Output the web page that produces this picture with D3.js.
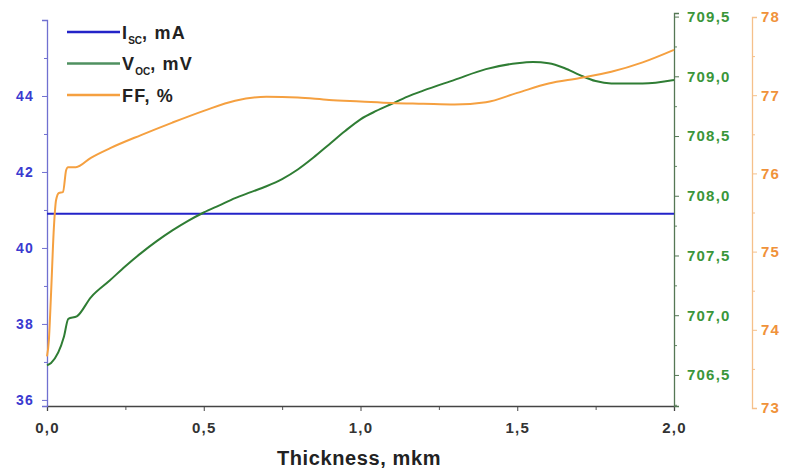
<!DOCTYPE html>
<html>
<head>
<meta charset="utf-8">
<script src="https://cdn.jsdelivr.net/npm/d3@7"></script>
<style>
  body { margin: 0; background: #fff; }
  svg { font-family: "Liberation Sans", Arial, sans-serif; font-weight: bold; }
</style>
</head>
<body>
<svg id="viewer"></svg>
<script>
// thickness, mkm
var thicknessVoc = [0, 0.013, 0.054, 0.068, 0.095, 0.14, 0.2, 0.25, 0.3, 0.35, 0.4, 0.45, 0.5, 0.55, 0.6, 0.65, 0.7, 0.75, 0.8, 0.85, 0.9, 0.95, 1.0, 1.05, 1.1, 1.15, 1.2, 1.3, 1.4, 1.5, 1.55, 1.6, 1.65, 1.7, 1.75, 1.8, 1.9, 2.0];
var voc = [706.58, 706.60, 706.82, 706.97, 706.99, 707.15, 707.29, 707.41, 707.52, 707.62, 707.71, 707.79, 707.86, 707.92, 707.98, 708.03, 708.08, 708.14, 708.22, 708.32, 708.43, 708.54, 708.64, 708.71, 708.77, 708.83, 708.88, 708.97, 709.06, 709.11, 709.12, 709.11, 709.07, 709.01, 708.96, 708.94, 708.94, 708.97];

var thicknessFF = [0, 0.006, 0.013, 0.022, 0.029, 0.038, 0.051, 0.061, 0.067, 0.092, 0.14, 0.2, 0.3, 0.4, 0.5, 0.6, 0.7, 0.8, 0.9, 1.0, 1.1, 1.2, 1.3, 1.4, 1.5, 1.6, 1.7, 1.8, 1.9, 2.0];
var ff = [73.66, 73.87, 74.47, 75.31, 75.66, 75.75, 75.76, 76.04, 76.08, 76.08, 76.20, 76.32, 76.49, 76.65, 76.80, 76.93, 76.98, 76.97, 76.94, 76.92, 76.90, 76.89, 76.88, 76.91, 77.03, 77.15, 77.22, 77.30, 77.42, 77.58];

var thicknessIsc = [0, 2.0];
var isc = [40.9, 40.9];

var iscTicks = [36, 38, 40, 42, 44];
var vocTicks = [706.5, 707.0, 707.5, 708.0, 708.5, 709.0, 709.5];
var ffTicks = [73, 74, 75, 76, 77, 78];
var xTicks = [0, 0.5, 1.0, 1.5, 2.0];

var legendNames = [['I', 'SC', ', mA'], ['V', 'OC', ', mV'], ['FF, %', '', '']];

var blue = '#2323c8', green = '#2f7d34', orange = '#f5a040';
var comma = d3.formatLocale({decimal: ',', thousands: ' ', grouping: [3], currency: ['', '']});

var viewer = d3.select('#viewer')
  .attr('width', 786)
  .attr('height', 474);

var x = d3.scaleLinear().domain([0, 2]).range([47, 674]);
var yI = d3.scaleLinear().domain([35.84, 46.0]).range([406, 20]);
var yV = d3.scaleLinear().domain([706.24, 709.53]).range([406, 13]);
var yF = d3.scaleLinear().domain([73, 78]).range([408, 17]);

function minorTicks(major) {
  var out = [];
  for (var i = 0; i < major.length - 1; i++) out.push((major[i] + major[i + 1]) / 2);
  return out;
}

function styleLabels(g, color, size) {
  g.selectAll('text')
    .attr('fill', color)
    .style('font-size', size + 'px')
    .style('font-weight', 'bold')
    .style('letter-spacing', '1.2px');
}

// minor ticks first so major ticks draw over them
viewer.append('g')
  .attr('transform', 'translate(0,406)')
  .call(d3.axisBottom(x).tickValues(minorTicks(xTicks)).tickSize(4).tickFormat(''))
  .call(function(g){ g.select('.domain').remove(); g.selectAll('line').attr('stroke', '#555'); });
viewer.append('g')
  .attr('transform', 'translate(47,0)')
  .call(d3.axisLeft(yI).tickValues(minorTicks(iscTicks).concat([45])).tickSize(3).tickFormat(''))
  .call(function(g){ g.select('.domain').remove(); g.selectAll('line').attr('stroke', '#7070d0'); });
viewer.append('g')
  .attr('transform', 'translate(674,0)')
  .call(d3.axisRight(yV).tickValues(minorTicks(vocTicks).concat([706.25])).tickSize(3).tickFormat(''))
  .call(function(g){ g.select('.domain').remove(); g.selectAll('line').attr('stroke', '#668866'); });
viewer.append('g')
  .attr('transform', 'translate(752,0)')
  .call(d3.axisRight(yF).tickValues(minorTicks(ffTicks)).tickSize(3).tickFormat(''))
  .call(function(g){ g.select('.domain').remove(); g.selectAll('line').attr('stroke', '#f5c08a'); });

var xAxis = viewer.append('g')
  .attr('transform', 'translate(0,406)')
  .call(d3.axisBottom(x).tickValues(xTicks).tickSize(5).tickPadding(11).tickFormat(comma.format('.1f')));
xAxis.select('.domain').attr('stroke', '#444').attr('stroke-width', 1.3);
xAxis.selectAll('line').attr('stroke', '#444');
styleLabels(xAxis, '#333', 15);

var iAxis = viewer.append('g')
  .attr('transform', 'translate(47,0)')
  .call(d3.axisLeft(yI).tickValues(iscTicks).tickSize(5).tickPadding(8));
iAxis.select('.domain').attr('stroke', '#7070d0').attr('stroke-width', 1.3);
iAxis.selectAll('line').attr('stroke', '#7070d0');
styleLabels(iAxis, '#3a3ad0', 14);

var vAxis = viewer.append('g')
  .attr('transform', 'translate(674,0)')
  .call(d3.axisRight(yV).tickValues(vocTicks).tickSize(5).tickPadding(8).tickFormat(comma.format('.1f')));
vAxis.select('.domain').attr('stroke', '#557755').attr('stroke-width', 1.3);
vAxis.selectAll('line').attr('stroke', '#557755');
styleLabels(vAxis, '#3a963a', 15);

var fAxis = viewer.append('g')
  .attr('transform', 'translate(752,0)')
  .call(d3.axisRight(yF).tickValues(ffTicks).tickSize(5).tickPadding(4).tickFormat(d3.format('d')));
fAxis.select('.domain').attr('stroke', '#f5c08a').attr('stroke-width', 1.3);
fAxis.selectAll('line').attr('stroke', '#f5c08a');
styleLabels(fAxis, '#f0923a', 15);

viewer.append('text')
  .attr('x', 359)
  .attr('y', 465)
  .attr('text-anchor', 'middle')
  .attr('fill', '#222')
  .style('font-size', '20px')
  .style('letter-spacing', '0.6px')
  .text('Thickness, mkm');

// curves
var lineI = d3.line()
  .x(function(d){ return x(d[0]); })
  .y(function(d){ return yI(d[1]); });
var lineV = d3.line()
  .curve(d3.curveMonotoneX)
  .x(function(d){ return x(d[0]); })
  .y(function(d){ return yV(d[1]); });
var lineF = d3.line()
  .curve(d3.curveMonotoneX)
  .x(function(d){ return x(d[0]); })
  .y(function(d){ return yF(d[1]); });

viewer.append('path')
  .datum(d3.zip(thicknessIsc, isc))
  .attr('fill', 'none').attr('stroke', blue).attr('stroke-width', 2)
  .attr('d', lineI);
viewer.append('path')
  .datum(d3.zip(thicknessVoc, voc))
  .attr('fill', 'none').attr('stroke', green).attr('stroke-width', 2)
  .attr('d', lineV);
viewer.append('path')
  .datum(d3.zip(thicknessFF, ff))
  .attr('fill', 'none').attr('stroke', orange).attr('stroke-width', 2)
  .attr('d', lineF);

// legend
var legendColors = [blue, '#4f9060', orange];
var legend = viewer.selectAll('.legendRow')
  .data(legendNames)
  .enter().append('g')
    .attr('class', 'legendRow')
    .attr('transform', function(d, i){ return 'translate(67,' + (32 + i * 31.5) + ')'; });
legend.append('line')
  .attr('x1', 0).attr('x2', 53)
  .attr('stroke', function(d, i){ return legendColors[i]; })
  .attr('stroke-width', 2.5);
var legendText = legend.append('text')
  .attr('x', 55)
  .attr('y', 6.5)
  .attr('fill', '#222')
  .style('font-size', '18px')
  .style('letter-spacing', '1.2px');
legendText.append('tspan').text(function(d){ return d[0]; });
legendText.append('tspan')
  .attr('dy', 5)
  .style('font-size', '10px')
  .style('letter-spacing', '0px')
  .text(function(d){ return d[1]; });
legendText.append('tspan')
  .attr('dy', -5)
  .text(function(d){ return d[2]; });
</script>
</body>
</html>
